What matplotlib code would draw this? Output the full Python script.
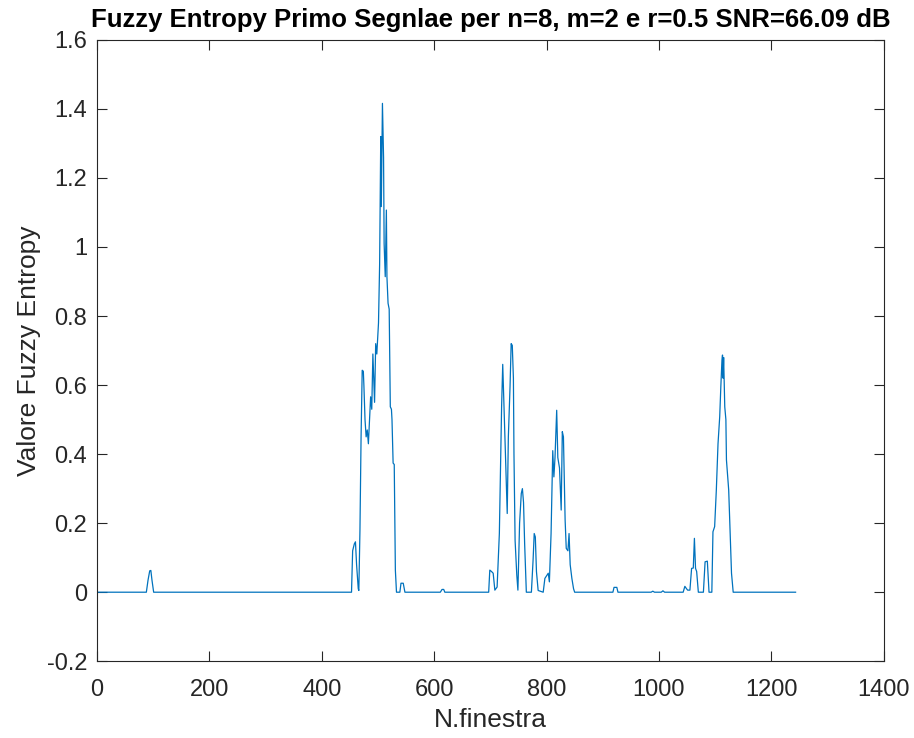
import matplotlib
matplotlib.use("Agg")
import matplotlib.pyplot as plt

# fuzzy entropy per window (breakpoints of the curve, zero elsewhere)
n_finestra = [1,
    88, 91, 94, 96, 98, 101,
    453, 455, 458, 460, 462, 465, 466,
    468, 470, 472, 474, 475, 477, 479, 481, 483, 485, 487, 489, 491, 493, 494,
    496, 498, 501, 503, 505, 506, 508, 510, 511, 513, 515, 516, 518, 520, 522,
    524, 525, 527, 529, 531, 533,
    539, 541, 545, 548,
    611, 614, 617, 619,
    697, 699, 702, 705, 708, 712, 716, 720, 722, 724, 726, 728, 730, 732, 735,
    737, 739, 741, 742, 744, 747, 749, 752, 755, 757, 759, 761, 764, 773, 776,
    778, 780, 782, 785, 794, 797, 799, 803, 805, 808, 811, 813, 815, 818, 820,
    823, 826, 828, 830, 833, 835, 838, 840, 842, 845, 848, 850,
    918, 920, 925, 927,
    986, 989, 992,
    1004, 1007, 1010,
    1043, 1046, 1049, 1051, 1055, 1058, 1061, 1063, 1065, 1067, 1070, 1079,
    1082, 1086, 1089, 1094, 1096, 1099, 1102, 1105, 1108, 1110, 1112, 1113,
    1114, 1115, 1117, 1119, 1120, 1122, 1124, 1126, 1129, 1132,
    1243]
fuzzy_en = [0,
    0, 0.035, 0.062, 0.063, 0.035, 0,
    0, 0.12, 0.14, 0.146, 0.08, 0.01, 0.005,
    0.18, 0.45, 0.643, 0.64, 0.6, 0.5, 0.45, 0.47, 0.43, 0.5, 0.566, 0.53, 0.69, 0.6, 0.55,
    0.72, 0.69, 0.78, 0.95, 1.32, 1.117, 1.416, 1.26, 1.01, 0.914, 1.107, 0.914, 0.837, 0.82, 0.537,
    0.53, 0.5, 0.374, 0.37, 0.064, 0,
    0, 0.026, 0.026, 0,
    0, 0.008, 0.008, 0,
    0, 0.064, 0.06, 0.055, 0.006, 0.015, 0.17, 0.537, 0.66, 0.55, 0.44, 0.33, 0.228, 0.45, 0.595,
    0.72, 0.715, 0.62, 0.4, 0.15, 0.05, 0.006, 0.2, 0.286, 0.3, 0.26, 0.14, 0, 0, 0.093,
    0.17, 0.16, 0.06, 0.005, 0, 0.04, 0.045, 0.055, 0.03, 0.17, 0.41, 0.334, 0.39, 0.527, 0.39,
    0.36, 0.238, 0.465, 0.45, 0.209, 0.127, 0.12, 0.17, 0.08, 0.04, 0.01, 0,
    0, 0.014, 0.014, 0,
    0, 0.003, 0,
    0, 0.004, 0,
    0, 0.017, 0.01, 0.006, 0.006, 0.069, 0.07, 0.156, 0.069, 0.06, 0, 0,
    0.088, 0.09, 0, 0, 0.175, 0.19, 0.296, 0.43, 0.508, 0.595, 0.672, 0.687,
    0.62, 0.68, 0.537, 0.5, 0.383, 0.34, 0.296, 0.2, 0.055, 0,
    0]

xticks = [0, 200, 400, 600, 800, 1000, 1200, 1400]
yticks = [-0.2, 0, 0.2, 0.4, 0.6, 0.8, 1, 1.2, 1.4, 1.6]
ytick_labels = ['-0.2', '0', '0.2', '0.4', '0.6', '0.8', '1', '1.2', '1.4', '1.6']

plt.rcParams['font.family'] = ['Liberation Sans', 'DejaVu Sans']
grey = '#262626'

fig = plt.figure(figsize=(9.14, 7.38), dpi=100)
ax = fig.add_axes([0.106, 0.104, 0.861, 0.842])
ax.plot(n_finestra, fuzzy_en, color='#0072BD', linewidth=0.9)

ax.set_xlim(0, 1400)
ax.set_ylim(-0.2, 1.6)
ax.set_xticks(xticks)
ax.set_yticks(yticks)
ax.set_yticklabels(ytick_labels)
ax.tick_params(direction='in', length=7, width=0.8, colors=grey, labelsize=17,
               top=True, right=True)
ax.tick_params(axis='x', pad=13)
ax.tick_params(axis='y', pad=7)
for s in ax.spines.values():
    s.set_color(grey)
    s.set_linewidth(0.8)

ax.set_xlabel('N.finestra', fontsize=19, color=grey, labelpad=5)
ax.set_ylabel('Valore Fuzzy Entropy', fontsize=19, color=grey, labelpad=4)
ax.set_title('Fuzzy Entropy Primo Segnlae per n=8, m=2 e r=0.5 SNR=66.09 dB',
             fontsize=18.5, fontweight='bold', color='black', pad=9)

fig.savefig('out.png', dpi=100)
